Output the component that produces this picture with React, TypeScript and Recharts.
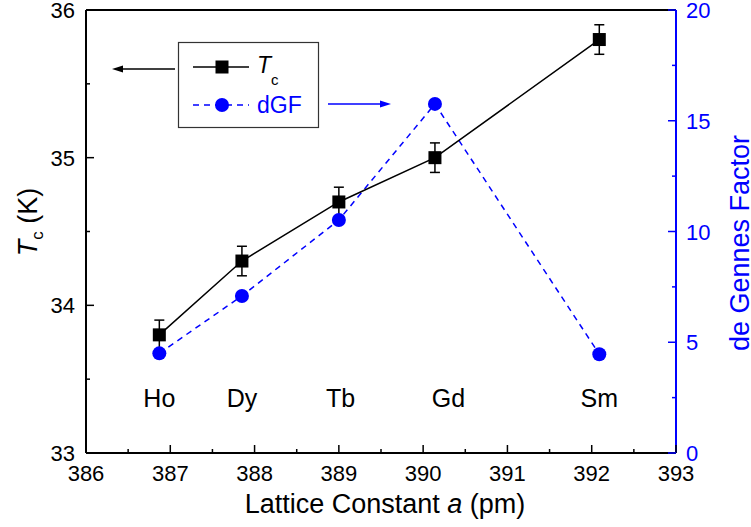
import React from 'react';
import { ComposedChart, Line, XAxis, YAxis, ErrorBar, ReferenceLine, Label } from 'recharts';

const elements = ['Ho', 'Dy', 'Tb', 'Gd', 'Sm'];
const latticeA = [386.87, 387.85, 389.0, 390.14, 392.09];
const tcValues = [33.8, 34.3, 34.7, 35.0, 35.8];
const tcErrors = [0.1, 0.1, 0.1, 0.1, 0.1];
const dgfValues = [4.5, 7.09, 10.52, 15.76, 4.46];
// element names sit just above the x axis
const labelA = [386.87, 387.85, 389.02, 390.3, 392.09];
const labelLevel = 33.37;

const xTicks = [386, 386.5, 387, 387.5, 388, 388.5, 389, 389.5, 390, 390.5, 391, 391.5, 392, 392.5, 393];
const leftTicks = [33, 33.5, 34, 34.5, 35, 35.5, 36];
const rightTicks = [0, 2.5, 5, 7.5, 10, 12.5, 15, 17.5, 20];

const FONT = '"Liberation Sans", Arial, sans-serif';
const BLUE = '#0000ff';

const tcData = elements.map((el, i) => ({ a: latticeA[i], tc: tcValues[i], err: tcErrors[i] }));
const dgfData = elements.map((el, i) => ({ a: latticeA[i], dgf: dgfValues[i] }));
const labelData = elements.map((el, i) => ({ a: labelA[i], lv: labelLevel, el }));

const BottomTick = (props: any) => {
  const { x, y, payload } = props;
  const major = Number.isInteger(payload.value);
  return (
    <g>
      <line x1={x} x2={x} y1={y} y2={y - (major ? 8 : 4)} stroke="#000" strokeWidth={1.5} />
      {major && (
        <text x={x} y={y + 28} textAnchor="middle" fontSize={22} fontFamily={FONT} fill="#000">
          {payload.value}
        </text>
      )}
    </g>
  );
};

const LeftTick = (props: any) => {
  const { x, y, payload } = props;
  const major = Number.isInteger(payload.value);
  return (
    <g>
      <line x1={x} x2={x + (major ? 8 : 4)} y1={y} y2={y} stroke="#000" strokeWidth={1.5} />
      {major && (
        <text x={x - 11} y={y + 8} textAnchor="end" fontSize={22} fontFamily={FONT} fill="#000">
          {payload.value}
        </text>
      )}
    </g>
  );
};

const RightTick = (props: any) => {
  const { x, y, payload } = props;
  const major = payload.value % 5 === 0;
  return (
    <g>
      <line x1={x} x2={x - (major ? 8 : 4)} y1={y} y2={y} stroke={BLUE} strokeWidth={1.5} />
      {major && (
        <text x={x + 10} y={y + 8} textAnchor="start" fontSize={22} fontFamily={FONT} fill={BLUE}>
          {payload.value}
        </text>
      )}
    </g>
  );
};

const SquareDot = (p: any) => (
  <rect key={`sq-${p.index}`} x={p.cx - 6.5} y={p.cy - 6.5} width={13} height={13} fill="#000" />
);

const CircleDot = (p: any) => <circle key={`ci-${p.index}`} cx={p.cx} cy={p.cy} r={7} fill={BLUE} />;

const ElementText = (p: any) => (
  <text
    key={`el-${p.index}`}
    x={p.cx}
    y={p.cy + 9}
    textAnchor="middle"
    fontSize={25}
    fontFamily={FONT}
    fill="#000"
  >
    {p.payload.el}
  </text>
);

const LegendOverlay = () => (
  <svg
    width={751}
    height={527}
    style={{ position: 'absolute', left: 0, top: 0, pointerEvents: 'none' }}
    fontFamily={FONT}
  >
    <rect x={178.5} y={42.5} width={140} height={85} fill="#fff" stroke="#333" strokeWidth={1.2} />
    <line x1={193} x2={249} y1={67} y2={67} stroke="#000" strokeWidth={1.5} />
    <rect x={215.5} y={60.5} width={13} height={13} fill="#000" />
    <text x={257} y={73} fontSize={23} fill="#000">
      <tspan fontStyle="italic">T</tspan>
      <tspan fontSize={15} dy={12}>c</tspan>
    </text>
    <line x1={193} x2={249} y1={105} y2={105} stroke={BLUE} strokeWidth={1.5} strokeDasharray="6 5" />
    <circle cx={222} cy={105} r={7} fill={BLUE} />
    <text x={257} y={113} fontSize={23} fill={BLUE}>
      dGF
    </text>
    <line x1={175} x2={120} y1={69} y2={69} stroke="#000" strokeWidth={1.5} />
    <polygon points="112,69 123,65.5 123,72.5" fill="#000" />
    <line x1={328} x2={382} y1={104} y2={104} stroke={BLUE} strokeWidth={1.5} />
    <polygon points="391,104 380,100.5 380,107.5" fill={BLUE} />
  </svg>
);

export default function App() {
  return (
    <div style={{ position: 'relative', width: 751, height: 527, background: '#fff' }}>
      <style>{'body{margin:0}'}</style>
      <ComposedChart width={751} height={527} margin={{ top: 10, right: 0, bottom: 0, left: 0 }}>
        <XAxis
          type="number"
          dataKey="a"
          domain={[386, 393]}
          ticks={xTicks}
          interval={0}
          height={74}
          tickSize={0}
          tickMargin={0}
          tickLine={false}
          axisLine={{ stroke: '#000', strokeWidth: 2 }}
          tick={<BottomTick />}
        >
          <Label
            content={() => (
              <text x={385} y={513} textAnchor="middle" fontSize={27} fontFamily={FONT} fill="#000">
                Lattice Constant <tspan fontStyle="italic">a</tspan> (pm)
              </text>
            )}
          />
        </XAxis>
        <YAxis
          yAxisId="left"
          type="number"
          domain={[33, 36]}
          ticks={leftTicks}
          interval={0}
          width={86}
          tickSize={0}
          tickMargin={0}
          tickLine={false}
          axisLine={{ stroke: '#000', strokeWidth: 2 }}
          tick={<LeftTick />}
        >
          <Label
            content={() => (
              <text
                x={37}
                y={222}
                transform="rotate(-90, 37, 222)"
                textAnchor="middle"
                fontSize={27}
                fontFamily={FONT}
                fill="#000"
              >
                <tspan fontStyle="italic">T</tspan>
                <tspan fontSize={17} dy={6}>c</tspan>
                <tspan dy={-6}> (K)</tspan>
              </text>
            )}
          />
        </YAxis>
        <YAxis
          yAxisId="right"
          orientation="right"
          type="number"
          domain={[0, 20]}
          ticks={rightTicks}
          interval={0}
          width={75}
          tickSize={0}
          tickMargin={0}
          tickLine={false}
          axisLine={{ stroke: BLUE, strokeWidth: 2 }}
          tick={<RightTick />}
        >
          <Label
            content={() => (
              <text
                x={749}
                y={243}
                transform="rotate(-90, 749, 243)"
                textAnchor="middle"
                fontSize={27}
                fontFamily={FONT}
                fill={BLUE}
              >
                de Gennes Factor
              </text>
            )}
          />
        </YAxis>
        <ReferenceLine yAxisId="left" y={36} stroke="#000" strokeWidth={2} />
        <Line
          yAxisId="left"
          data={labelData}
          dataKey="lv"
          stroke="none"
          dot={ElementText}
          activeDot={false}
          isAnimationActive={false}
        />
        <Line
          yAxisId="right"
          data={dgfData}
          dataKey="dgf"
          stroke={BLUE}
          strokeWidth={1.5}
          strokeDasharray="6 5"
          dot={CircleDot}
          activeDot={false}
          isAnimationActive={false}
        />
        <Line
          yAxisId="left"
          data={tcData}
          dataKey="tc"
          stroke="#000"
          strokeWidth={1.5}
          dot={SquareDot}
          activeDot={false}
          isAnimationActive={false}
        >
          <ErrorBar dataKey="err" direction="y" width={5} stroke="#000" strokeWidth={1.5} />
        </Line>
      </ComposedChart>
      <LegendOverlay />
    </div>
  );
}
